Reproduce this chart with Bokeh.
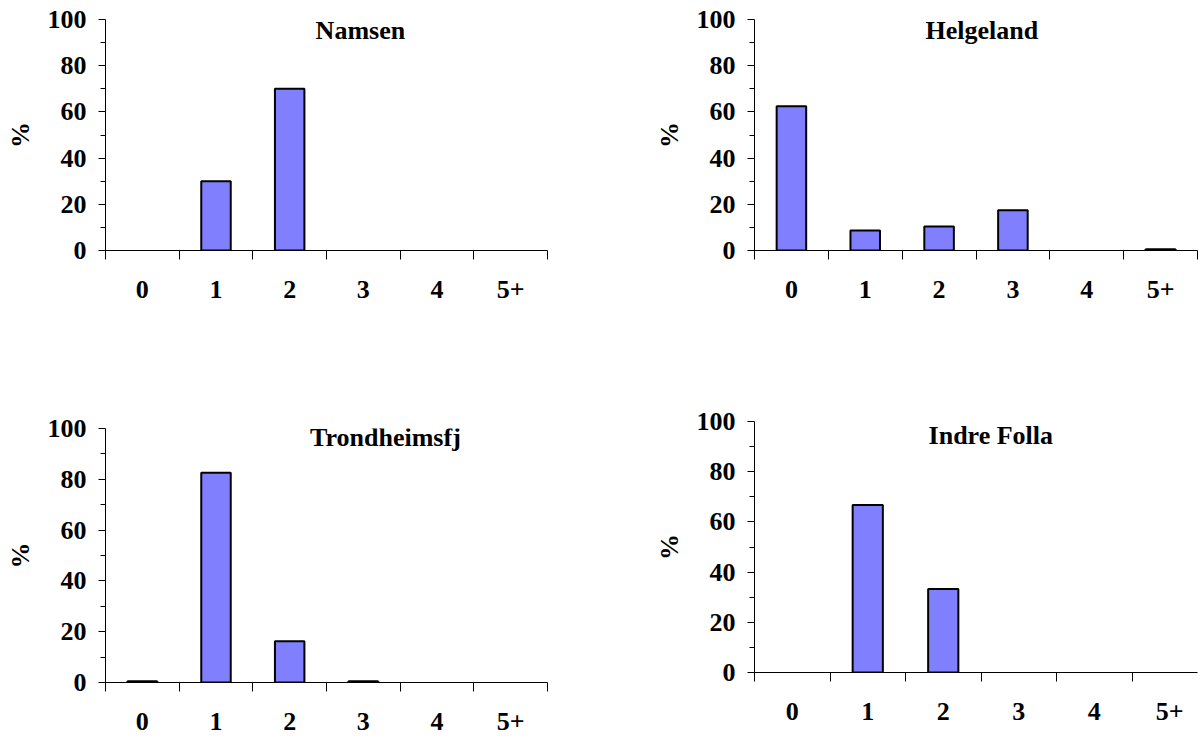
from bokeh.plotting import figure
from bokeh.models import Range1d, FixedTicker, Label, ColumnDataSource
from bokeh.layouts import column, row
from bokeh.embed import file_html
from bokeh.resources import INLINE

# ---- data ----
categories = ["0", "1", "2", "3", "4", "5+"]
namsen = [0, 30, 70, 0, 0, 0]
helgeland = [62.5, 8.7, 10.4, 17.4, 0, 0.5]
trondheimsfj = [0.5, 82.6, 16.2, 0.5, 0, 0]
indre_folla = [0, 66.7, 33.3, 0, 0, 0]
y_ticks = [0, 20, 40, 60, 80, 100]
y_minor = [10, 30, 50, 70, 90]
titles = ["Namsen", "Helgeland", "Trondheimsfj", "Indre Folla"]

FONT = "Liberation Serif"
FS = "26px"
BAR_FILL = "#8080FF"


def make(title, values, width, height, left, right, top, bottom, x_end,
         title_x, title_y, xlab_standoff):
    p = figure(width=width, height=height,
               x_range=Range1d(0, x_end), y_range=Range1d(0, 100),
               output_backend="svg", toolbar_location=None,
               min_border_left=left, min_border_right=right,
               min_border_top=top, min_border_bottom=bottom,
               outline_line_color=None, background_fill_color="white",
               border_fill_color="white")
    p.xgrid.visible = False
    p.ygrid.visible = False

    centers = [i + 0.5 for i in range(len(categories))]
    bounds = [float(i) for i in range(len(categories) + 1)]
    xs = [c for c, v in zip(centers, values) if v > 0]
    tops = [v for v in values if v > 0]
    src = ColumnDataSource(dict(x=xs, top=tops))
    p.vbar(x="x", top="top", bottom=0, width=0.4, source=src,
           fill_color=BAR_FILL, line_color="black", line_width=2)

    xa = p.xaxis[0]
    xa.ticker = FixedTicker(ticks=centers, minor_ticks=bounds)
    xa.major_label_overrides = {c: lab for c, lab in zip(centers, categories)}
    xa.major_tick_out = 0
    xa.major_tick_in = 0
    xa.minor_tick_out = 9
    xa.minor_tick_in = 0
    xa.minor_tick_line_color = "black"
    xa.axis_line_color = "black"
    xa.major_label_standoff = xlab_standoff
    xa.major_label_text_font = FONT
    xa.major_label_text_font_style = "bold"
    xa.major_label_text_font_size = FS
    xa.major_label_text_color = "black"

    ya = p.yaxis[0]
    ya.ticker = FixedTicker(ticks=y_ticks, minor_ticks=y_minor)
    ya.major_tick_out = 7
    ya.major_tick_in = 0
    ya.minor_tick_out = 5
    ya.minor_tick_in = 0
    ya.major_tick_line_color = "black"
    ya.minor_tick_line_color = "black"
    ya.axis_line_color = "black"
    ya.major_label_standoff = 12
    ya.major_label_text_font = FONT
    ya.major_label_text_font_style = "bold"
    ya.major_label_text_font_size = FS
    ya.major_label_text_color = "black"
    ya.axis_label = "%"
    ya.axis_label_standoff = 10
    ya.axis_label_text_font = FONT
    ya.axis_label_text_font_style = "bold"
    ya.axis_label_text_font_size = FS
    ya.axis_label_text_color = "black"

    p.add_layout(Label(x=title_x, y=title_y, text=title,
                       text_align="center", text_baseline="middle",
                       text_font=FONT, text_font_style="bold",
                       text_font_size=FS, text_color="black"))
    return p


p1 = make(titles[0], namsen, 650, 400, 105, 103, 19, 150, 6, 3.46, 95.2, 21)
p3 = make(titles[2], trondheimsfj, 650, 338, 105, 103, 28, 56, 6, 3.8, 96.5, 21)
p2 = make(titles[1], helgeland, 552, 393, 104, 5, 19, 143, 6, 3.08, 95.2, 21)
p4 = make(titles[3], indre_folla, 552, 345, 104, 5, 28, 66, 443 / 75.5, 3.13, 94.4, 21)

layout = row(column(p1, p3), column(p2, p4))
open("out.html", "w").write(file_html(layout, INLINE))
